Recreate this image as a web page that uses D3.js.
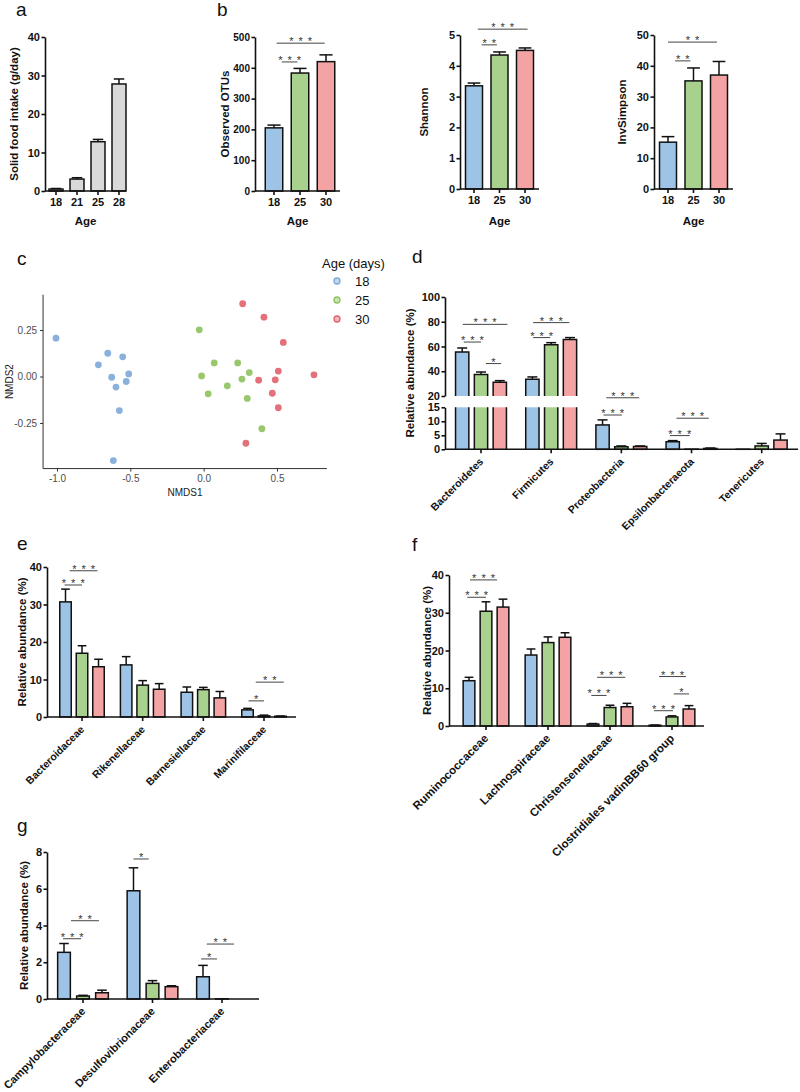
<!DOCTYPE html>
<html>
<head>
<meta charset="utf-8">
<script src="https://cdn.jsdelivr.net/npm/d3@7"></script>
<style>
  body { margin: 0; background: #fff; }
  text { font-family: 'Liberation Sans', Arial, sans-serif; }
</style>
</head>
<body>
<div id="chart"></div>
<script>
// ---------- data ----------
const ageGroups = ["18", "25", "30"];

// a: solid food intake
const intakeAges = ["18", "21", "25", "28"];
const intakeMean = [0.5, 3.1, 12.8, 27.8];
const intakeErr = [0.15, 0.35, 0.6, 1.3];

// b: alpha diversity (18, 25, 30 days)
const otuMean = [205, 383, 420];
const otuErr = [9, 15, 22];
const shannonMean = [3.35, 4.35, 4.5];
const shannonErr = [0.09, 0.1, 0.08];
const invSimpsonMean = [15.2, 35.1, 37.0];
const invSimpsonErr = [1.8, 4.2, 4.4];

// significance marks: [group, fromBar, toBar, y value, label]
const otuSig = [[0, 0.3, 0.9, 419, "***"], [0, 0.1, 1.95, 480, "***"]];
const shannonSig = [[0, 0.3, 0.9, 4.68, "**"], [0, 0.15, 2.1, 5.19, "***"]];
const invSimpsonSig = [[0, 0.28, 0.88, 41.6, "**"], [0, 0, 1.92, 47.7, "**"]];

// c: NMDS ordination [NMDS1, NMDS2]
const nmds18 = [[-1.007, 0.206], [-0.654, 0.125], [-0.718, 0.063], [-0.552, 0.106], [-0.627, -0.004],
                [-0.511, 0.014], [-0.598, -0.057], [-0.528, -0.027], [-0.575, -0.183], [-0.616, -0.452]];
const nmds25 = [[-0.030, 0.251], [-0.014, 0.003], [0.072, 0.073], [0.031, -0.093], [0.232, 0.073],
                [0.161, -0.050], [0.261, -0.014], [0.311, 0.021], [0.297, -0.118], [0.397, -0.281]];
const nmds30 = [[0.266, 0.391], [0.411, 0.319], [0.543, 0.183], [0.509, 0.029], [0.375, -0.020],
                [0.488, -0.018], [0.752, 0.009], [0.468, -0.090], [0.509, -0.168], [0.288, -0.359]];

// d: phyla
const phyla = ["Bacteroidetes", "Firmicutes", "Proteobacteria", "Epsilonbacteraeota", "Tenericutes"];
const phyla18 = [55.6, 33.5, 8.7, 2.7, 0.02];
const phyla18Err = [3.2, 1.9, 1.8, 0.4, 0];
const phyla25 = [37.3, 61.5, 0.9, 0.05, 1.2];
const phyla25Err = [2.1, 1.6, 0.3, 0, 0.9];
const phyla30 = [31.1, 65.6, 1.0, 0.3, 3.3];
const phyla30Err = [1.3, 1.6, 0.2, 0.15, 2.2];
const phylaSig = [[0, 0.08, 1.0, 63.6, "***"], [0, 0.03, 2.4, 77.9, "***"], [0, 1.26, 2.07, 46.2, "*"],
                  [1, 0.04, 0.95, 67.2, "***"], [1, 0.04, 1.97, 79.3, "***"],
                  [2, 0.05, 1.03, 12.25, "***"], [2, 0.2, 1.95, 18.4, "***"],
                  [3, -0.15, 0.9, 4.9, "***"], [3, 0.2, 1.92, 11.1, "***"]];

// e: Bacteroidetes families
const bactFamilies = ["Bacteroidaceae", "Rikenellaceae", "Barnesiellaceae", "Marinifilaceae"];
const bact18 = [30.7, 13.9, 6.6, 1.9];
const bact18Err = [3.4, 2.2, 1.4, 0.4];
const bact25 = [17.0, 8.5, 7.3, 0.3];
const bact25Err = [2.0, 1.2, 0.6, 0.2];
const bact30 = [13.4, 7.4, 5.1, 0.2];
const bact30Err = [2.0, 1.5, 1.7, 0.05];
const bactSig = [[0, -0.06, 1.0, 35.2, "***"], [0, 0.25, 1.94, 39.0, "***"],
                 [3, 0.06, 1.0, 4.3, "*"], [3, 0.5, 2.2, 9.3, "**"]];

// f: Firmicutes families
const firmFamilies = ["Ruminococcaceae", "Lachnospiraceae", "Christensenellaceae", "Clostridiales vadinBB60 group"];
const firm18 = [12.0, 18.8, 0.5, 0.2];
const firm18Err = [0.9, 1.6, 0.15, 0.05];
const firm25 = [30.4, 22.1, 4.9, 2.4];
const firm25Err = [2.5, 1.5, 0.6, 0.3];
const firm30 = [31.5, 23.5, 5.1, 4.5];
const firm30Err = [2.1, 1.2, 0.9, 0.9];
const firmSig = [[0, -0.1, 1.0, 34.1, "***"], [0, 0.06, 1.65, 38.7, "***"],
                 [2, -0.1, 0.8, 8.1, "***"], [2, 0.24, 1.9, 12.9, "***"],
                 [3, -0.06, 1.06, 4.05, "***"], [3, 1.1, 2.0, 8.5, "*"], [3, 0.24, 1.82, 13.1, "***"]];

// g: Proteobacteria / Epsilonbacteraeota families
const protFamilies = ["Campylobacteraceae", "Desulfovibrionaceae", "Enterobacteriaceae"];
const prot18 = [2.54, 5.89, 1.21];
const prot18Err = [0.48, 1.25, 0.62];
const prot25 = [0.16, 0.85, 0.01];
const prot25Err = [0.04, 0.15, 0];
const prot30 = [0.34, 0.67, 0.0];
const prot30Err = [0.14, 0.05, 0];
const protSig = [[0, -0.05, 0.9, 3.28, "***"], [0, 0.37, 1.84, 4.26, "**"],
                 [1, 0, 0.8, 7.62, "*"],
                 [2, -0.1, 0.74, 2.18, "*"], [2, 0.2, 1.63, 2.99, "**"]];

// ---------- style ----------
const barFills = ["#9dc3e6", "#a9d18e", "#f4a3a5"];
const dotFills = ["#7da8d8", "#8dc25b", "#e0606d"];
const intakeFill = "#d9d9d9";

const svg = d3.select("#chart").append("svg")
  .attr("width", 800).attr("height", 1092);

// ---------- helpers ----------
function panelLetter(x, y, s) {
  svg.append("text").attr("x", x).attr("y", y).attr("font-size", 19).attr("fill", "#111").text(s);
}

function yAxis(y, x, ticks, fs) {
  const g = svg.append("g").attr("transform", `translate(${x},0)`)
    .call(d3.axisLeft(y).tickValues(ticks).tickSize(3.5).tickSizeOuter(0).tickPadding(1.5).tickFormat(d3.format("d")));
  g.attr("font-family", null);
  g.select(".domain").attr("stroke", "#111").attr("stroke-width", 1.6);
  g.selectAll(".tick line").attr("stroke", "#111").attr("stroke-width", 1.6);
  g.selectAll(".tick text").attr("font-size", fs || 11).attr("font-weight", "bold").attr("fill", "#111");
  return g;
}

function yTitle(x, yc, s) {
  svg.append("text").attr("transform", `translate(${x},${yc}) rotate(-90)`)
    .attr("text-anchor", "middle").attr("dominant-baseline", "middle")
    .attr("font-size", 11.5).attr("font-weight", "bold").attr("fill", "#111").text(s);
}

function xAxis(x, cats, x0, x1, yy, rotFs) {
  svg.append("line").attr("x1", x0).attr("x2", x1).attr("y1", yy).attr("y2", yy)
    .attr("stroke", "#111").attr("stroke-width", 1.6);
  cats.forEach(c => {
    svg.append("line").attr("x1", x(c)).attr("x2", x(c)).attr("y1", yy).attr("y2", yy + 4)
      .attr("stroke", "#111").attr("stroke-width", 1.6);
    const t = svg.append("text").attr("font-size", rotFs || 11).attr("font-weight", "bold").attr("fill", "#111").text(c);
    if (rotFs) {
      t.attr("transform", `translate(${x(c) + 3},${yy + 13}) rotate(-45)`).attr("text-anchor", "end");
    } else {
      t.attr("x", x(c)).attr("y", yy + 15).attr("text-anchor", "middle");
    }
  });
}

function errBar(cx, yTop, yErr, w) {
  svg.append("line").attr("x1", cx).attr("x2", cx).attr("y1", yTop).attr("y2", yErr)
    .attr("stroke", "#111").attr("stroke-width", 1.5);
  svg.append("line").attr("x1", cx - w / 2).attr("x2", cx + w / 2).attr("y1", yErr).attr("y2", yErr)
    .attr("stroke", "#111").attr("stroke-width", 1.5);
}

function bar(cx, w, yTop, yBot, fill) {
  svg.append("rect").attr("x", cx - w / 2).attr("y", yTop).attr("width", w).attr("height", Math.max(0, yBot - yTop))
    .attr("fill", fill).attr("stroke", "#111").attr("stroke-width", 1.5);
}

function drawSig(list, xpos, y) {
  list.forEach(([g, a, b, v, lab]) => {
    const yy = y(v), x1 = xpos(g, a), x2 = xpos(g, b);
    svg.append("line").attr("x1", x1).attr("x2", x2).attr("y1", yy).attr("y2", yy)
      .attr("stroke", "#444").attr("stroke-width", 1);
    svg.append("text").attr("x", (x1 + x2) / 2 + 2.5).attr("y", yy + 2)
      .attr("text-anchor", "middle").attr("font-size", 11).attr("letter-spacing", 5)
      .attr("fill", "#333").text(lab);
  });
}

// single-group bar panels (a, b)
function simplePanel(o) {
  const y = d3.scaleLinear().domain(o.domain).range(o.yRange);
  const x = d3.scalePoint().domain(o.cats).range(o.xRange);
  o.means.forEach((m, i) => {
    const cx = x(o.cats[i]);
    errBar(cx, y(m), y(m + o.errs[i]), o.barW * 0.75);
    bar(cx, o.barW, y(m), y(0), o.fills[i]);
  });
  yAxis(y, o.axisX[0], o.ticks, o.tickFs);
  xAxis(x, o.cats, o.axisX[0], o.axisX[1], y(0));
  yTitle(o.titleX, (o.yRange[0] + o.yRange[1]) / 2, o.title);
  svg.append("text").attr("x", (o.axisX[0] + o.axisX[1]) / 2).attr("y", 225).attr("text-anchor", "middle")
    .attr("font-size", 11.5).attr("font-weight", "bold").attr("fill", "#111").text("Age");
  if (o.sig) drawSig(o.sig, (g, i) => o.xRange[0] + i * x.step(), y);
}

// grouped bar panels (e, f, g)
function groupedPanel(o) {
  const y = d3.scaleLinear().domain(o.domain).range(o.yRange);
  const x = d3.scalePoint().domain(o.cats).range(o.xRange);
  const xpos = (g, i) => x(o.cats[g]) + (i - 1) * o.step;
  o.series.forEach((s, si) => {
    s.forEach((m, g) => {
      const cx = xpos(g, si);
      if (o.errs[si][g] > 0) errBar(cx, y(m), y(m + o.errs[si][g]), o.barW * 0.75);
      bar(cx, o.barW, y(m), y(0), barFills[si]);
    });
  });
  yAxis(y, o.axisX[0], o.ticks);
  xAxis(x, o.cats, o.axisX[0], o.axisX[1], y(0), o.labelFs);
  yTitle(o.titleX, (o.yRange[0] + o.yRange[1]) / 2, "Relative abundance (%)");
  drawSig(o.sig, xpos, y);
}

// ---------- a ----------
panelLetter(16, 16, "a");
simplePanel({
  cats: intakeAges, means: intakeMean, errs: intakeErr, fills: intakeAges.map(() => intakeFill),
  domain: [0, 40], yRange: [191, 37], xRange: [56, 119], axisX: [45, 126], barW: 14,
  ticks: [0, 10, 20, 30, 40], title: "Solid food intake (g/day)", titleX: 15
});

// ---------- b ----------
panelLetter(217, 16, "b");
simplePanel({
  cats: ageGroups, means: otuMean, errs: otuErr, fills: barFills,
  domain: [0, 500], yRange: [191, 37], xRange: [274, 326], axisX: [255, 340], barW: 17.5,
  ticks: [0, 100, 200, 300, 400, 500], tickFs: 10, title: "Observed OTUs", titleX: 226, sig: otuSig
});
simplePanel({
  cats: ageGroups, means: shannonMean, errs: shannonErr, fills: barFills,
  domain: [0, 5], yRange: [189, 35], xRange: [474, 525], axisX: [460, 539], barW: 17,
  ticks: [0, 1, 2, 3, 4, 5], title: "Shannon", titleX: 425, sig: shannonSig
});
simplePanel({
  cats: ageGroups, means: invSimpsonMean, errs: invSimpsonErr, fills: barFills,
  domain: [0, 50], yRange: [189, 35], xRange: [668, 719], axisX: [654, 733], barW: 17,
  ticks: [0, 10, 20, 30, 40, 50], title: "InvSimpson", titleX: 623, sig: invSimpsonSig
});

// ---------- c ----------
panelLetter(17, 265, "c");
{
  const cx = d3.scaleLinear().domain([-1, 0.5]).range([57, 277]);
  const cy = d3.scaleLinear().domain([-0.25, 0.25]).range([423, 330]);
  const x0 = cx(-1.095), x1 = cx(0.84), y0 = cy(-0.495), y1 = cy(0.44);
  const gx = svg.append("g").attr("transform", `translate(0,${y0})`)
    .call(d3.axisBottom(cx).tickValues([-1, -0.5, 0, 0.5]).tickSize(3).tickPadding(3).tickFormat(d => d.toFixed(1)));
  const gy = svg.append("g").attr("transform", `translate(${x0},0)`)
    .call(d3.axisLeft(cy).tickValues([-0.25, 0, 0.25]).tickSize(3).tickPadding(3).tickFormat(d => d.toFixed(2)));
  [gx, gy].forEach(g => {
    g.attr("font-family", null);
    g.select(".domain").remove();
    g.selectAll(".tick line").attr("stroke", "#333");
    g.selectAll(".tick text").attr("font-size", 10).attr("fill", "#4d4d4d");
  });
  svg.append("line").attr("x1", x0).attr("x2", x1).attr("y1", y0).attr("y2", y0).attr("stroke", "#333");
  svg.append("line").attr("x1", x0).attr("x2", x0).attr("y1", y0).attr("y2", y1).attr("stroke", "#333");
  svg.append("text").attr("x", (x0 + x1) / 2).attr("y", 496).attr("text-anchor", "middle")
    .attr("font-size", 10).attr("fill", "#222").text("NMDS1");
  svg.append("text").attr("transform", `translate(10,${(y0 + y1) / 2}) rotate(-90)`).attr("text-anchor", "middle")
    .attr("dominant-baseline", "middle").attr("font-size", 10).attr("fill", "#222").text("NMDS2");
  [nmds18, nmds25, nmds30].forEach((pts, i) => {
    svg.append("g").selectAll("circle").data(pts).join("circle")
      .attr("cx", d => cx(d[0])).attr("cy", d => cy(d[1])).attr("r", 3.4)
      .attr("fill", dotFills[i]).attr("fill-opacity", 0.9);
  });
  // legend
  svg.append("text").attr("x", 322).attr("y", 268).attr("font-family", "Lato, sans-serif")
    .attr("font-size", 13).attr("fill", "#111").text("Age (days)");
  ageGroups.forEach((a, i) => {
    const ly = 281 + i * 19;
    svg.append("circle").attr("cx", 337).attr("cy", ly).attr("r", 3)
      .attr("fill", dotFills[i]).attr("fill-opacity", 0.45).attr("stroke", dotFills[i]).attr("stroke-width", 1.3);
    svg.append("text").attr("x", 355).attr("y", ly + 5).attr("font-family", "Lato, sans-serif")
      .attr("font-size", 13).attr("fill", "#111").text(a);
  });
}

// ---------- d (broken y axis) ----------
panelLetter(412, 263, "d");
{
  const lo = d3.scaleLinear().domain([0, 15]).range([449.3, 407.3]);
  const hi = d3.scaleLinear().domain([20, 100]).range([396, 297]);
  const y = v => v >= 20 ? hi(v) : lo(v);
  const x = d3.scalePoint().domain(phyla).range([481, 761.7]);
  const step = 18.8, w = 13.3;
  const xpos = (g, i) => x(phyla[g]) + (i - 1) * step;
  const series = [phyla18, phyla25, phyla30], errs = [phyla18Err, phyla25Err, phyla30Err];
  series.forEach((s, si) => {
    s.forEach((m, g) => {
      const cx = xpos(g, si);
      if (errs[si][g] > 0) errBar(cx, y(m), y(m + errs[si][g]), w * 0.75);
      if (m > 15) {
        // lower piece, open at the break
        svg.append("rect").attr("x", cx - w / 2).attr("y", lo(15)).attr("width", w).attr("height", lo(0) - lo(15))
          .attr("fill", barFills[si]);
        svg.append("path").attr("d", `M${cx - w / 2},${lo(15)}V${lo(0)}M${cx + w / 2},${lo(15)}V${lo(0)}`)
          .attr("stroke", "#111").attr("stroke-width", 1.5).attr("fill", "none");
        // upper piece
        svg.append("rect").attr("x", cx - w / 2).attr("y", hi(m)).attr("width", w).attr("height", hi(20) - hi(m))
          .attr("fill", barFills[si]);
        svg.append("path").attr("d", `M${cx - w / 2},${hi(20)}V${hi(m)}H${cx + w / 2}V${hi(20)}`)
          .attr("stroke", "#111").attr("stroke-width", 1.5).attr("fill", "none");
      } else {
        bar(cx, w, lo(m), lo(0), barFills[si]);
      }
    });
  });
  yAxis(lo, 445, [0, 5, 10, 15]);
  yAxis(hi, 445, [20, 40, 60, 80, 100]);
  xAxis(x, phyla, 445, 798, lo(0), 10.5);
  yTitle(411, 373, "Relative abundance (%)");
  drawSig(phylaSig, xpos, y);
}

// ---------- e ----------
panelLetter(17, 550, "e");
groupedPanel({
  cats: bactFamilies, series: [bact18, bact25, bact30], errs: [bact18Err, bact25Err, bact30Err],
  domain: [0, 40], yRange: [717, 567], xRange: [82, 264], axisX: [47, 296], step: 16.5, barW: 11.5,
  ticks: [0, 10, 20, 30, 40], titleX: 23, sig: bactSig, labelFs: 10.5
});

// ---------- f ----------
panelLetter(412, 551, "f");
groupedPanel({
  cats: firmFamilies, series: [firm18, firm25, firm30], errs: [firm18Err, firm25Err, firm30Err],
  domain: [0, 40], yRange: [726, 575], xRange: [486, 672], axisX: [449, 704], step: 17, barW: 11.7,
  ticks: [0, 10, 20, 30, 40], titleX: 428, sig: firmSig, labelFs: 11.5
});

// ---------- g ----------
panelLetter(17, 832, "g");
groupedPanel({
  cats: protFamilies, series: [prot18, prot25, prot30], errs: [prot18Err, prot25Err, prot30Err],
  domain: [0, 8], yRange: [999, 852], xRange: [83, 222], axisX: [47, 259], step: 19, barW: 12.7,
  ticks: [0, 2, 4, 6, 8], titleX: 25, sig: protSig, labelFs: 11
});
</script>
</body>
</html>
